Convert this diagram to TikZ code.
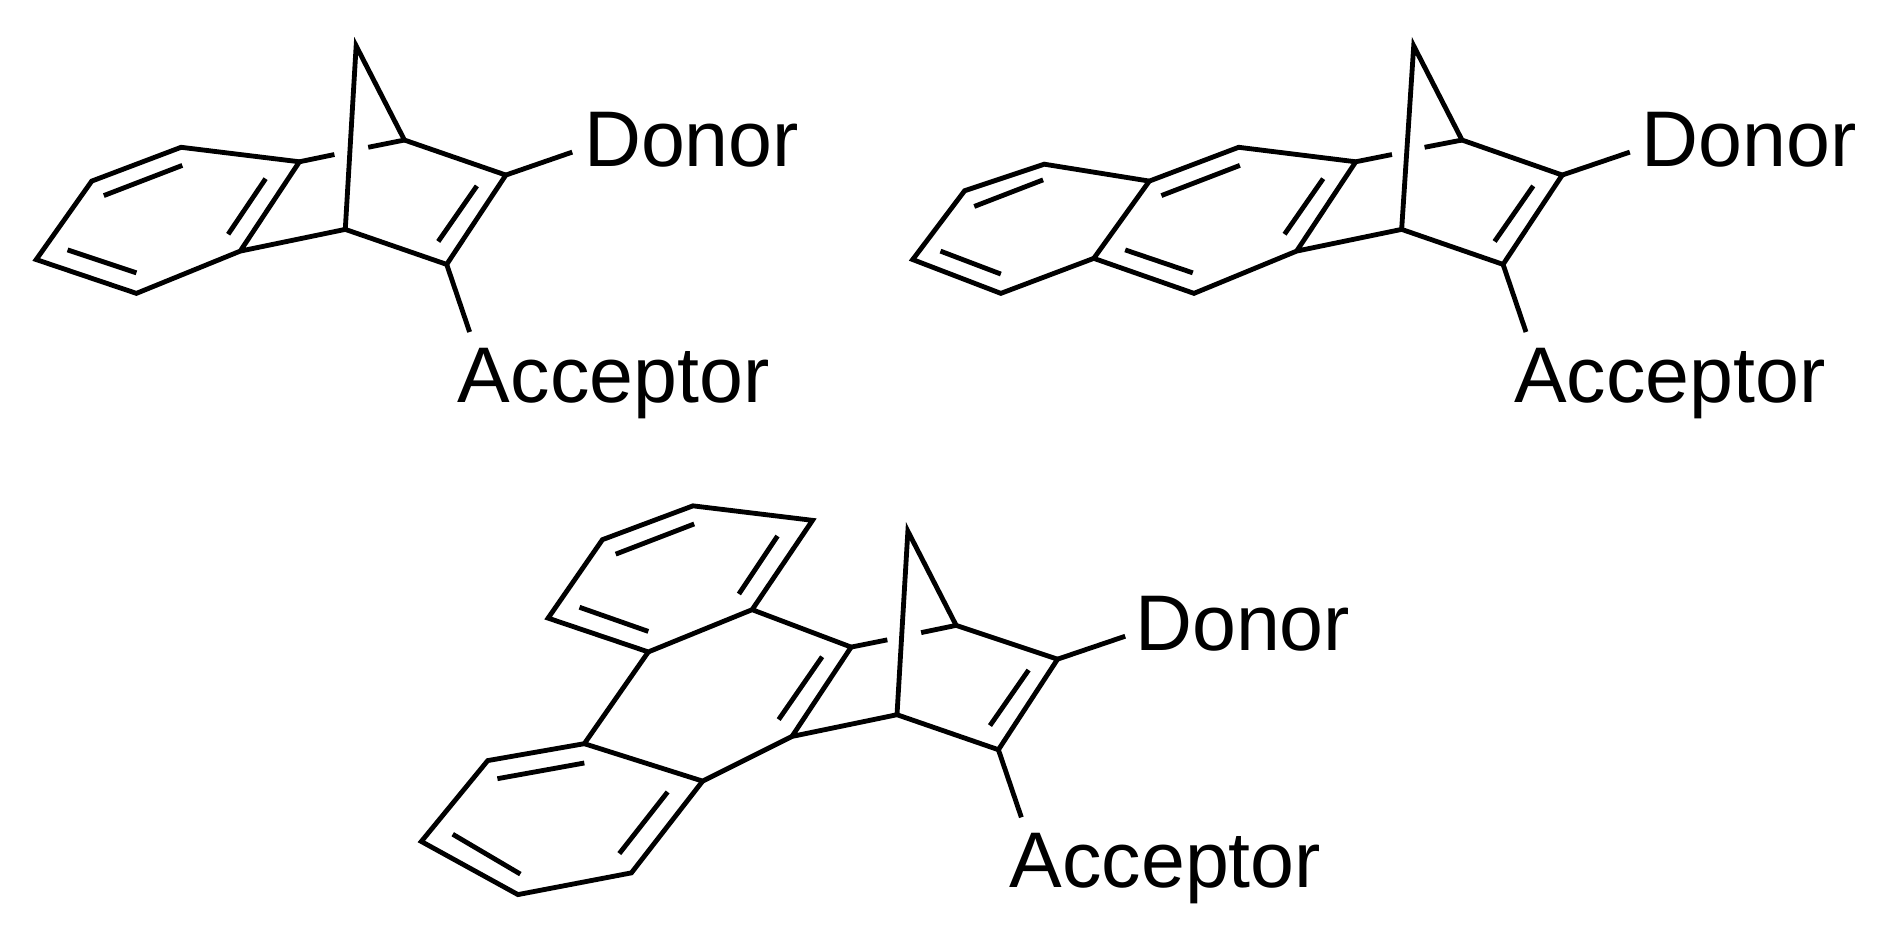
\documentclass[tikz,border=0pt]{standalone}
\usepackage{fontspec}
\setmainfont{Liberation Sans}
\tikzset{
  bond/.style={line width=0.08cm,line join=miter,miter limit=20},
  lab/.style={anchor=base west,inner sep=0pt,font=\fontsize{37.2}{41}\selectfont},
}
\begin{document}
\begin{tikzpicture}[x=0.02cm,y=-0.02cm]
\useasboundingbox (0,0) rectangle (1568,772.8);
% --- molecule 1
\foreach \n/\p in {
  at/{295,38},ab/{286,190},ar/{335,116},al/{248,134},am/{199,208},
  ac/{419,145},ad/{370,219},ae/{474,126},af/{389,275},
  ag1/{277,128},ag2/{305,122},
  a1/{150,122},a2/{76,150},a3/{30,215},a4/{113,243},
  ax1/{220,148},ax2/{189,194},ax3/{151,137},ax4/{86,162},ax5/{56,207},ax6/{113,226},ax7/{395,154},ax8/{363,200}}
  {\coordinate (\n) at (\p);}
\draw[bond] (ab) -- (at) -- (ar) -- (ac) -- (ad) -- (ab) -- (am) -- (al) -- (a1) -- (a2) -- (a3) -- (a4) -- (am);
\draw[bond] (al) -- (ag1) (ag2) -- (ar) (ac) -- (ae) (ad) -- (af);
\draw[bond] (ax1) -- (ax2) (ax3) -- (ax4) (ax5) -- (ax6) (ax7) -- (ax8);
\node[lab] (d1) at (483.5,138) {Donor};
\node[lab] (c1) at (379,333) {Acceptor};
% --- molecule 2
\foreach \n/\p in {
  bt/{1171,38},bb/{1161,190},br/{1211,116},bl/{1123,134},bm/{1074,208},
  bc/{1294,145},bd/{1245,219},be/{1350,126},bf/{1264,275},
  bg1/{1153,128},bg2/{1180,122},
  b1/{1026,122},b2/{952,150},b3/{906,214},b4/{989,243},
  b5/{865,136},b6/{799,158},b7/{756,215},b8/{829,243},
  bx1/{1096,148},bx2/{1064,194},bx3/{1027,137},bx4/{962,162},bx5/{932,207},bx6/{988,226},
  bx7/{864,149},bx8/{807,171},bx9/{779,208},bx10/{829,227},bx11/{1270,154},bx12/{1238,200}}
  {\coordinate (\n) at (\p);}
\draw[bond] (bb) -- (bt) -- (br) -- (bc) -- (bd) -- (bb) -- (bm) -- (bl) -- (b1) -- (b2) -- (b3) -- (b4) -- (bm);
\draw[bond] (b2) -- (b5) -- (b6) -- (b7) -- (b8) -- (b3);
\draw[bond] (bl) -- (bg1) (bg2) -- (br) (bc) -- (be) (bd) -- (bf);
\draw[bond] (bx1) -- (bx2) (bx3) -- (bx4) (bx5) -- (bx6) (bx7) -- (bx8) (bx9) -- (bx10) (bx11) -- (bx12);
\node[lab] (d2) at (1359.5,138) {Donor};
\node[lab] (c2) at (1254,333) {Acceptor};
% --- molecule 3
\foreach \n/\p in {
  ct/{752,440},cb/{743,592},cr/{792,518},cl/{705,536},cm/{656,610},
  cc/{876,546},cd/{827,621},ce/{932,527},cf/{846,677},
  cg1/{735,530},cg2/{763,524},
  c1p/{623,505},c2p/{673,431},c3p/{574,419},c4p/{499,447},c5p/{454,512},c6p/{537,540},
  c7p/{484,616},c8p/{582,647},c9p/{404,630},c10p/{349,697},c11p/{429,741},c12p/{523,723},
  cx1/{681,544},cx2/{645,596},cx3/{644,444},cx4/{612,492},cx5/{575,434},cx6/{510,459},
  cx7/{480,503},cx8/{537,523},cx9/{484,632},cx10/{412,645},cx11/{375,691},cx12/{431,724},
  cx13/{553,656},cx14/{513,707},cx15/{852,555},cx16/{820,601}}
  {\coordinate (\n) at (\p);}
\draw[bond] (cb) -- (ct) -- (cr) -- (cc) -- (cd) -- (cb) -- (cm) -- (cl) -- (c1p) -- (c2p) -- (c3p) -- (c4p) -- (c5p) -- (c6p) -- (c1p);
\draw[bond] (c6p) -- (c7p) -- (c8p) -- (cm);
\draw[bond] (c7p) -- (c9p) -- (c10p) -- (c11p) -- (c12p) -- (c8p);
\draw[bond] (cl) -- (cg1) (cg2) -- (cr) (cc) -- (ce) (cd) -- (cf);
\draw[bond] (cx1) -- (cx2) (cx3) -- (cx4) (cx5) -- (cx6) (cx7) -- (cx8) (cx9) -- (cx10) (cx11) -- (cx12) (cx13) -- (cx14) (cx15) -- (cx16);
\node[lab] (d3) at (940,539) {Donor};
\node[lab] (c3) at (836,735) {Acceptor};
\end{tikzpicture}
\end{document}
